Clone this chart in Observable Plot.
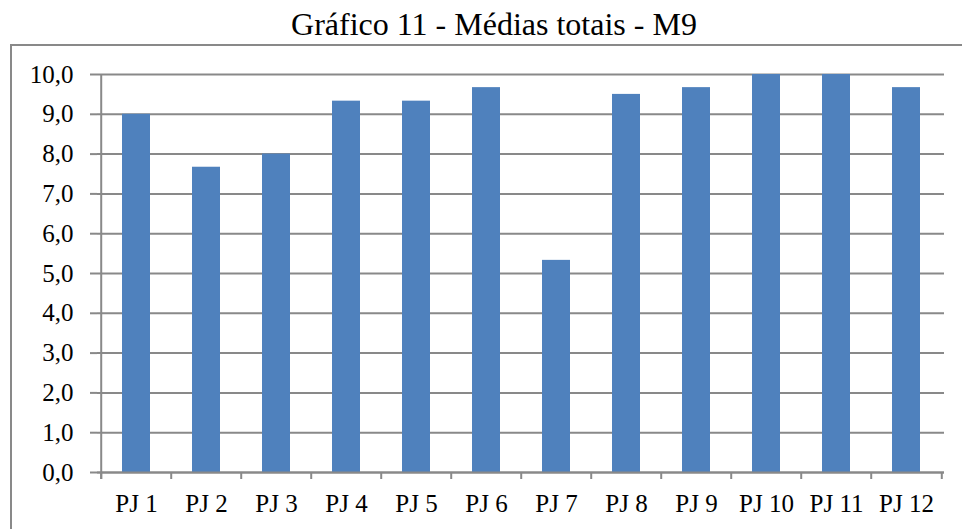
<!DOCTYPE html>
<html>
<head>
<meta charset="utf-8">
<script src="https://cdn.jsdelivr.net/npm/d3@7"></script>
<script src="https://cdn.jsdelivr.net/npm/@observablehq/plot@0.6"></script>
<style>
  html, body { margin: 0; padding: 0; background: #fff; }
  #wrap { position: relative; width: 962px; height: 529px; overflow: hidden; font-family: "Liberation Serif", "Times New Roman", serif; }
  #title { position: absolute; left: 0; top: 8px; width: 988px; text-align: center; font-size: 32px; line-height: 32px; color: #000; white-space: nowrap; }
  #frame { position: absolute; left: 10px; top: 44px; width: 1000px; height: 600px; border: 2px solid #898989; box-sizing: border-box; }
  #chart { position: absolute; left: 0; top: 0; }
</style>
</head>
<body>
<div id="wrap">
  <div id="frame"></div>
  <div id="title">Gráfico 11 - Médias totais - M9</div>
  <div id="chart"></div>
</div>
<script>
const categories = ["PJ 1", "PJ 2", "PJ 3", "PJ 4", "PJ 5", "PJ 6", "PJ 7", "PJ 8", "PJ 9", "PJ 10", "PJ 11", "PJ 12"];
const values = [9.0, 7.67, 8.0, 9.33, 9.33, 9.67, 5.33, 9.5, 9.67, 10.0, 10.0, 9.67];
const yTicks = [0, 1, 2, 3, 4, 5, 6, 7, 8, 9, 10];

const data = categories.map((c, i) => ({pj: c, value: values[i]}));

const W = 962, H = 529;
const mL = 97, mR = 18, mT = 74, mB = 57;
const half = (W - mL - mR) / categories.length / 2;
const gray = "#898989";
const font = "'Liberation Serif', 'Times New Roman', serif";

const chart = Plot.plot({
  width: W,
  height: H,
  marginLeft: mL,
  marginRight: mR,
  marginTop: mT,
  marginBottom: mB,
  style: {fontFamily: font, fontSize: "25px", color: "#000", background: "transparent", overflow: "visible"},
  x: {domain: categories, paddingInner: 0.6, paddingOuter: 0.3, label: null},
  y: {domain: [0, 10], label: null},
  marks: [
    Plot.gridY(yTicks, {stroke: gray, strokeOpacity: 1, strokeWidth: 2}),
    Plot.barY(data, {x: "pj", y: "value", fill: "#4F81BD"}),
    // left axis line
    Plot.ruleX([categories[0]], {x: d => d, dx: -half, y1: 10, y2: 0, stroke: gray, strokeWidth: 2, insetBottom: -7}),
    // baseline
    Plot.ruleY([0], {stroke: gray, strokeWidth: 2}),
    // boundary tick marks on category axis
    Plot.ruleX(categories, {x: d => d, dx: -half, y1: 0, y2: 0, stroke: gray, strokeWidth: 2, insetBottom: -7}),
    Plot.ruleX([categories[categories.length - 1]], {x: d => d, dx: half, y1: 0, y2: 0, stroke: gray, strokeWidth: 2, insetBottom: -7}),
    Plot.axisY(yTicks, {
      tickSize: 7,
      tickPadding: 17,
      stroke: gray,
      strokeWidth: 2,
      tickFormat: d => d.toFixed(1).replace(".", ","),
      fontSize: 25,
      fill: "#000",
      label: null
    }),
    Plot.axisX({tickSize: 0, tickPadding: 22, fontSize: 25, fill: "#000", label: null})
  ]
});
document.getElementById("chart").appendChild(chart);
</script>
</body>
</html>
